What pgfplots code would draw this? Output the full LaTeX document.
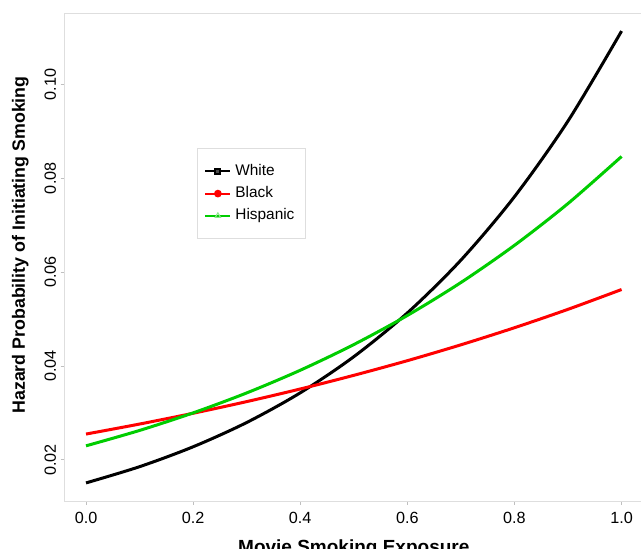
\documentclass[border=0pt]{standalone}
\usepackage{fontspec}
\setmainfont{Liberation Sans}
\usepackage{pgfplots}
\pgfplotsset{compat=1.18}
\definecolor{hgreen}{RGB}{0,205,0}
\definecolor{hred}{RGB}{255,0,0}
\begin{document}
\begin{tikzpicture}
\path[use as bounding box, clip] (-32.3pt,-24pt) rectangle (288.2pt,250.5pt);
\begin{axis}[
 at={(0pt,0pt)}, anchor=south west, scale only axis,
 width=289.2pt, height=244pt,
 xmin=-0.04, xmax=1.04, ymin=0.01125, ymax=0.1152,
 axis line style={draw=black!13},
 tick style={draw=black!25, line width=0.5pt},
 tick align=outside, major tick length=2pt,
 xtick pos=lower, ytick pos=left,
 xtick={0,0.2,0.4,0.6,0.8,1.0},
 ytick={0.02,0.04,0.06,0.08,0.10},
 scaled y ticks=false, scaled x ticks=false,
 xticklabel style={/pgf/number format/.cd, fixed, fixed zerofill, precision=1},
 yticklabel style={/pgf/number format/.cd, fixed, fixed zerofill, precision=2, /tikz/.cd, rotate=90, anchor=south},
 yticklabel shift=-1.2pt,
 /pgf/number format/assume math mode=true,
 ticklabel style={font=\fontsize{8.1}{10}\selectfont},
 xlabel={Movie Smoking Exposure},
 ylabel={Hazard Probability of Initiating Smoking},
 xlabel style={font=\fontsize{9.5}{11}\selectfont\bfseries, yshift=-1pt},
 ylabel style={font=\fontsize{8.9}{11}\selectfont\bfseries, xshift=6pt, yshift=1pt},
 legend style={at={(axis description cs:0.2289,0.7234)}, anchor=north west,
   draw=black!13, font=\fontsize{7.7}{9}\selectfont, inner xsep=3.5pt, inner ysep=6pt, row sep=0pt,
   /tikz/every even column/.append style={column sep=1.5pt}},
 legend cell align=left,
 legend image code/.code={\draw[mark repeat=2,mark phase=2,#1] plot coordinates {(0pt,0pt) (6.25pt,0pt) (12.5pt,0pt)};},
]
\addlegendimage{black, line width=1pt, mark=square*, mark size=1.3pt, mark options={fill=black!70, draw=black}}
\addlegendentry{White}
\addlegendimage{hred, line width=1pt, mark=*, mark size=1.4pt}
\addlegendentry{Black}
\addlegendimage{hgreen, line width=1pt, mark=triangle, mark size=1.5pt, mark options={draw=hgreen!45, line width=0.5pt}}
\addlegendentry{Hispanic\hspace{1.5pt}}

\addplot[forget plot, black, line width=1.5pt, smooth] coordinates {
(0.0,0.01510) (0.1,0.01856) (0.2,0.02280) (0.3,0.02797) (0.4,0.03429)
(0.5,0.04199) (0.6,0.05131) (0.7,0.06256) (0.8,0.07607) (0.9,0.09220) (1.0,0.11135)};
\addplot[forget plot, hred, line width=1.5pt, smooth] coordinates {
(0.0,0.02551) (0.1,0.02764) (0.2,0.02994) (0.3,0.03242) (0.4,0.03511)
(0.5,0.03802) (0.6,0.04114) (0.7,0.04452) (0.8,0.04816) (0.9,0.05208) (1.0,0.05630)};
\addplot[forget plot, hgreen, line width=1.5pt, smooth] coordinates {
(0.0,0.02300) (0.1,0.02628) (0.2,0.03002) (0.3,0.03427) (0.4,0.03910)
(0.5,0.04457) (0.6,0.05077) (0.7,0.05779) (0.8,0.06571) (0.9,0.07462) (1.0,0.08464)};
\end{axis}
\end{tikzpicture}
\end{document}
